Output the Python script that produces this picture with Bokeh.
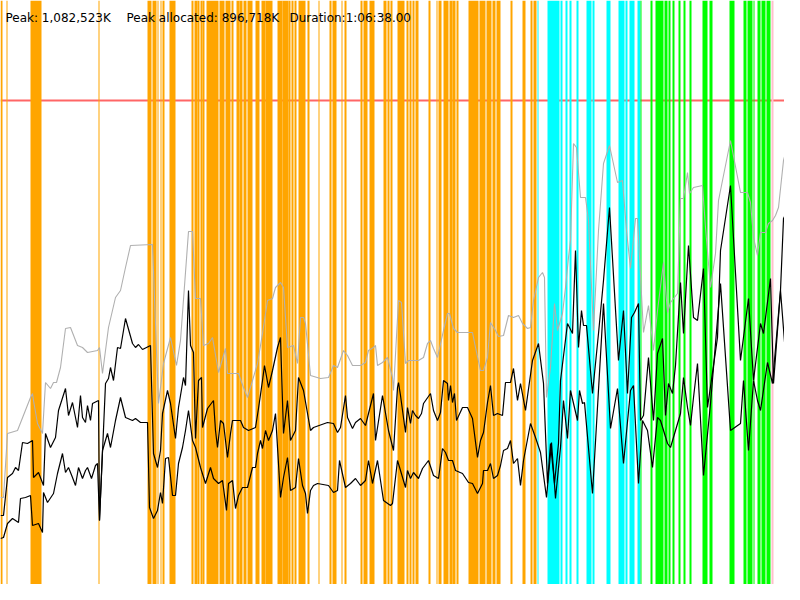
from bokeh.plotting import figure
from bokeh.models import Range1d, Span, Label
from bokeh.embed import file_html
from bokeh.resources import INLINE

# ---- data (time in sample units, memory in chart units; peak line = 500) ----
peak_level = 500

gray_t = [0,3,7,17,30,32,33,37,42,45,50,53,56,60,65,70,77,82,87,97,
          99,102,108,115,120,125,130,152,158,163,170,176,180,188,192,195,200,203,208,212,
          218,225,227,238,243,247,252,257,262,267,272,275,280,283,287,293,297,300,303,305,
          310,320,328,333,337,343,347,352,360,365,368,373,375,377,382,387,392,393,398,401,
          405,408,418,423,427,430,433,437,443,447,449,453,457,472,475,480,483,487,490,495,
          498,503,508,513,518,522,527,530,533,538,542,544,546,550,554,557,562,565,568,570,
          573,576,580,585,588,593,598,603,609,617,622,626,630,635,637,643,648,653,657,663,
          667,670,677,680,683,687,689,693,702,705,710,715,718,730,740,747,750,753,757,760,
          765,768,772,775,778,783,787,792,795,797,800]
gray_v = [103,103,167,170,203,207,200,177,167,218,212,218,218,233,272,273,255,253,248,250,
          253,227,273,303,310,333,355,356,197,237,263,235,260,369,369,302,302,255,257,263,
          228,252,227,227,213,203,220,237,267,300,302,313,318,313,253,255,237,283,283,277,
          225,222,223,235,233,250,245,235,235,238,250,253,255,235,238,243,223,210,300,298,
          237,240,240,243,257,260,252,243,270,287,287,272,268,268,253,230,230,243,278,270,
          264,265,285,283,285,277,272,273,300,323,328,323,203,233,297,270,287,313,343,360,
          457,453,403,403,380,270,370,437,455,418,420,370,332,382,382,268,295,250,290,338,
          288,298,307,402,402,428,407,413,415,373,313,347,400,460,408,408,398,363,345,368,
          368,377,380,385,393,440,455,470,423,408,407]

alloc_t = [0,3,7,12,15,18,22,27,32,33,38,43,45,50,55,58,65,68,72,77,
           80,82,85,87,90,92,98,99,105,108,110,113,117,120,125,132,135,138,142,150,
           153,157,160,162,167,170,175,178,183,185,188,190,193,195,198,201,202,207,213,215,
           217,220,223,227,230,232,240,243,248,255,258,262,264,268,272,277,280,283,287,290,
           295,298,303,310,313,327,333,337,340,345,347,352,355,360,365,373,375,382,388,393,
           397,398,400,405,407,410,412,415,418,421,423,430,433,437,440,443,447,448,450,452,
           454,456,462,467,472,477,480,483,487,490,493,497,502,505,510,513,517,520,525,532,
           538,543,547,550,554,558,560,567,572,575,578,581,583,586,592,598,603,609,618,623,
           627,631,634,638,640,643,648,653,657,662,665,668,672,675,680,683,688,693,697,703,
           707,717,720,730,740,748,753,760,763,770,773,780,783,792,796,800]
alloc_v = [85,85,123,127,133,130,158,157,160,123,128,115,167,153,163,190,212,185,198,173,
           205,183,178,195,180,197,200,80,217,222,233,220,253,252,282,257,253,256,251,255,
           147,133,150,187,210,197,162,193,223,215,310,255,248,162,220,223,173,192,200,170,
           153,180,177,143,167,180,180,173,170,173,192,220,235,213,230,253,263,167,200,160,
           170,223,210,170,173,178,177,168,173,205,183,172,178,182,175,207,160,205,170,150,
           213,218,205,168,193,177,190,185,182,187,197,207,190,180,188,220,217,200,215,198,
           207,180,193,193,182,143,160,168,198,215,185,187,185,218,218,232,200,217,190,240,
           257,217,117,157,117,157,220,277,267,350,253,290,275,275,207,267,320,393,240,290,
           207,283,288,297,180,185,243,180,247,262,185,217,207,235,318,267,355,283,280,332,
           193,263,350,415,240,302,220,277,267,322,217,310,382,400,157,310]

low_t = [0,3,7,12,15,18,20,25,30,32,38,42,43,47,53,57,62,65,68,72,
         75,78,82,85,87,91,95,97,99,102,107,110,115,120,125,132,135,140,147,149,
         153,157,160,162,165,168,172,175,178,182,185,188,192,195,200,205,210,213,218,222,
         226,228,232,235,238,242,247,252,255,257,260,262,265,268,272,275,280,283,287,290,
         295,298,302,305,307,310,313,317,328,333,337,339,345,350,355,360,365,368,372,377,
         383,390,392,397,400,405,407,410,413,418,422,428,433,438,442,445,448,452,455,462,
         468,472,477,482,483,487,490,493,497,500,503,507,510,513,517,520,523,530,535,540,
         546,551,555,560,563,567,570,577,579,582,584,592,603,610,617,623,630,633,638,642,
         647,652,657,660,667,670,680,683,687,690,693,697,703,710,720,730,740,743,748,753,
         757,760,767,772,780,792,800]
low_v = [62,63,77,82,80,78,102,103,105,75,77,68,108,98,107,127,147,128,133,123,
         115,133,122,130,133,122,135,137,80,150,167,153,180,203,183,180,182,178,178,93,
         82,90,108,97,142,143,105,105,137,153,170,190,160,153,133,117,133,122,117,120,
         90,117,120,92,105,113,113,133,133,147,160,152,170,160,170,187,103,123,143,110,
         113,142,115,107,87,110,115,117,115,108,110,140,113,117,122,115,120,140,117,140,
         100,95,97,140,130,113,130,122,128,122,132,140,125,122,152,148,140,140,130,127,
         118,117,107,117,130,130,137,122,125,135,150,152,160,137,142,115,140,177,163,148,
         103,158,102,153,200,162,210,180,210,197,198,107,297,172,212,137,210,215,117,180,
         170,133,183,180,157,153,187,223,193,175,203,237,125,197,317,170,177,220,150,220,
         200,190,238,217,310,157,240]

orange_start = [0,6,30,98,147,152,157,160,162,169,191,194,197,200,202,206,219,225,231,236,
                239,243,247,255,261,265,277,282,288,291,294,298,307,318,329,332,341,344,360,363,
                369,383,387,390,397,406,409,412,415,428,436,438,443,449,452,456,468,479,486,492,
                496,510,522,530,533]
orange_end = [2,7,41,99,151,156,158,161,164,175,193,197,199,202,204,218,224,230,233,239,
              242,246,252,259,265,272,282,288,290,293,296,305,309,319,331,336,342,346,362,367,
              374,386,389,392,404,408,411,414,418,430,437,441,448,452,455,458,478,485,491,495,
              500,512,525,532,536]
cyan_start = [537,547,560,565,569,576,586,592,606,618,625,629,637]
cyan_end = [538,559,562,567,571,578,591,594,610,624,627,634,640]
green_start = [640,650,655,664,668,672,678,683,689,702,709,729,743,747,753,757,761,766]
green_end = [641,652,663,667,670,674,680,685,691,707,712,734,746,752,754,760,765,770]
pink_start = [771,791,794]
pink_end = [773,793,797]

header = ["Peak: 1,082,523K", "Peak allocated: 896,718K", "Duration:1:06:38.00"]

# ---- figure ----
W, H = 784, 584
p = figure(width=W, height=H, output_backend="svg", toolbar_location=None,
           x_range=Range1d(0, W), y_range=Range1d(600 - H, 600),
           x_axis_type=None, y_axis_type=None, min_border=0,
           background_fill_color="white", border_fill_color="white")
p.outline_line_color = None
p.grid.visible = False

for s, e, c in [(orange_start, orange_end, "#ffa500"),
                (cyan_start, cyan_end, "#00ffff"),
                (green_start, green_end, "#00ff00"),
                (pink_start, pink_end, "#ffc0cb")]:
    p.quad(left=s, right=e, bottom=0, top=600, fill_color=c, line_color=None)

p.add_layout(Span(location=peak_level, dimension="width", line_color="red",
                  line_alpha=0.6, line_width=1.8, level="underlay"))

p.line(gray_t, gray_v, line_color="#b0b0b0", line_width=1.1)
p.line(low_t, low_v, line_color="black", line_width=1.2)
p.line(alloc_t, alloc_v, line_color="black", line_width=1.2)

for txt, xs in zip(header, [5, 126, 289]):
    p.add_layout(Label(x=xs, y=H - 17, x_units="screen", y_units="screen", text=txt,
                       text_font="DejaVu Sans", text_font_size="12px",
                       text_color="black", text_baseline="alphabetic"))

open("out.html", "w").write(file_html(p, INLINE))
